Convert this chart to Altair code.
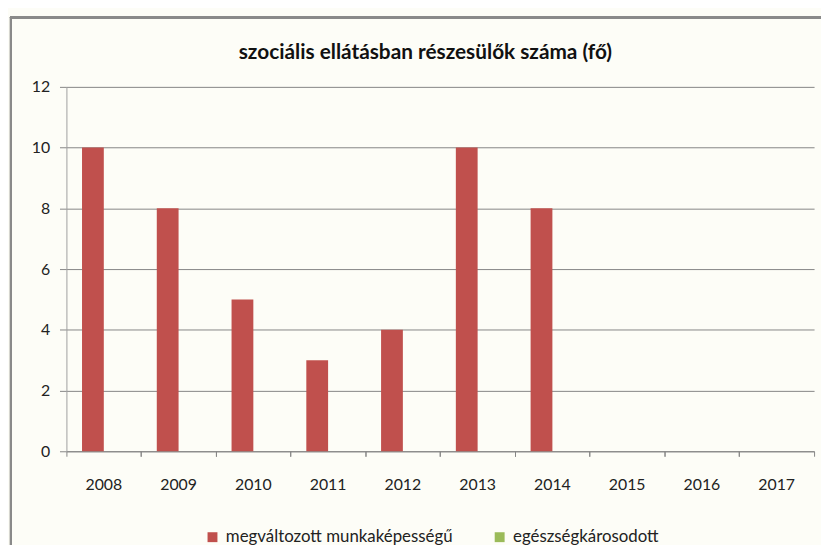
import altair as alt
import pandas as pd

years = ["2008", "2009", "2010", "2011", "2012", "2013", "2014", "2015", "2016", "2017"]
series_names = ["megváltozott munkaképességű", "egészségkárosodott"]
megvaltozott = [10, 8, 5, 3, 4, 10, 8, 0, 0, 0]
egeszseg = [0, 0, 0, 0, 0, 0, 0, 0, 0, 0]
colors = ["#C0504D", "#9BBB59"]
title_text = "szociális ellátásban részesülők száma (fő)"

rows = []
for i, y in enumerate(years):
    rows.append({"year": y, "series": series_names[0], "value": megvaltozott[i]})
    rows.append({"year": y, "series": series_names[1], "value": egeszseg[i]})
df = pd.DataFrame(rows)

FONT = "Lato"
GRID = "#868686"
W, H = 755, 368

xscale = alt.Scale(domain=years, paddingInner=0, paddingOuter=0)

bars = alt.Chart(df).mark_bar().encode(
    x=alt.X("year:N", scale=xscale, sort=years,
            axis=alt.Axis(title=None, orient="bottom", bandPosition=1, ticks=True, tickSize=5,
                          tickColor=GRID, domain=True, domainColor=GRID, labelAngle=0,
                          labelPadding=21, labelFont=FONT, labelFontSize=16,
                          labelColor="#222222", grid=False)),
    xOffset=alt.XOffset("series:N", sort=series_names,
                        scale=alt.Scale(paddingInner=0, paddingOuter=0.716)),
    y=alt.Y("value:Q", scale=alt.Scale(domain=[0, 12]),
            axis=alt.Axis(title=None, values=[0, 2, 4, 6, 8, 10, 12], grid=True, gridColor=GRID,
                          domain=True, domainColor="#A0A0A0", ticks=True, tickSize=7, tickColor=GRID,
                          labelPadding=10, labelFont=FONT, labelFontSize=16, labelColor="#222222")),
    color=alt.Color("series:N", sort=series_names,
                    scale=alt.Scale(domain=series_names, range=colors),
                    legend=alt.Legend(title=None, orient="none", legendX=139, legendY=446,
                                      direction="horizontal", symbolType="square", symbolSize=100,
                                      symbolStrokeWidth=0, labelFont=FONT, labelFontSize=17,
                                      labelColor="#222222", labelOffset=5, columnPadding=38,
                                      labelLimit=400, padding=0)),
)

ticks_layer = alt.Chart(df).mark_point(opacity=0).encode(
    x=alt.X("year:N", scale=xscale, sort=years,
            axis=alt.Axis(title=None, orient="bottom", bandPosition=0, labels=False, domain=False,
                          ticks=True, tickSize=5, tickColor=GRID, grid=False)),
)

border_left = alt.Chart(df).mark_rule(color="#8A8A8A", strokeWidth=2).encode(
    x=alt.value(-56), y=alt.value(-71), y2=alt.value(700)
)
border_top = alt.Chart(df).mark_rule(color="#8A8A8A", strokeWidth=2).encode(
    x=alt.value(-57), x2=alt.value(900), y=alt.value(-70)
)

chart = alt.layer(border_left, border_top, bars, ticks_layer).resolve_axis(x="independent").properties(
    width=W, height=H,
    title=alt.TitleParams(title_text, font=FONT, fontSize=21, fontWeight="bold", color="#111111",
                          anchor="middle", dx=-15, offset=18, dy=66),
    autosize=alt.AutoSizeParams(type="none"),
    padding={"left": 59, "top": 77, "right": 7, "bottom": 92},
    background="#FDFDF7",
).configure_view(stroke=None)

chart.save("out.html", embed_options={"renderer": "svg", "actions": False})
